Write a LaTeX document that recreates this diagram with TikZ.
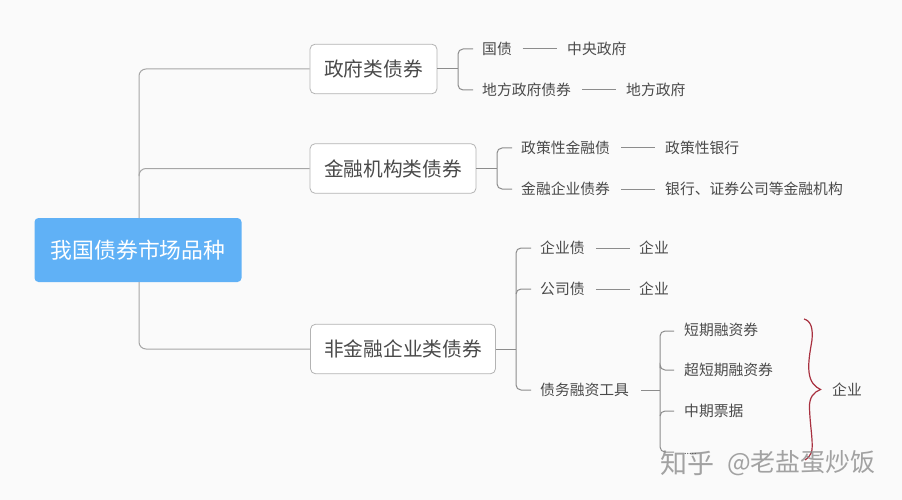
\documentclass[tikz,border=0pt]{standalone}
\usepackage{fontspec}
\setmainfont{Noto Sans CJK SC}[Scale=1]
\definecolor{bgc}{HTML}{FAFAFA}
\definecolor{rootc}{HTML}{60B1F6}
\definecolor{linec}{HTML}{A6A6A6}
\definecolor{linek}{HTML}{8C8C8C}
\definecolor{txt}{HTML}{4A4A4A}
\definecolor{brc}{HTML}{A8303F}
\begin{document}
\begin{tikzpicture}[x=1pt,y=-1pt,
  rootbox/.style={fill=rootc,rounded corners=4pt,minimum width=207pt,minimum height=64pt,inner sep=0pt,text=white,font=\fontsize{21.8}{24}\selectfont},
  midbox/.style={draw=linec!85,line width=0.8pt,fill=white,rounded corners=5pt,minimum height=49.5pt,inner sep=0pt,text=txt,font=\fontsize{19.7}{22}\selectfont},
  leaf/.style={inner sep=0pt,text=txt,anchor=west,minimum height=16pt,font=\fontsize{14.8}{17}\selectfont},
  conn/.style={draw=linec,line width=1pt,rounded corners=7pt},
  plain/.style={draw=linek,line width=1pt},
  tree/.style={draw=linek,line width=1pt,rounded corners=5pt},
  wmark/.style={inner sep=0pt,text=black!45,opacity=.8}]
\useasboundingbox (0,0) rectangle (902,500);
\fill[bgc] (0,0) rectangle (902,500);
% nodes
\node[rootbox] (root) at (138,250) {我国债券市场品种};
\node[midbox,minimum width=127pt] (a) at (373.5,69) {政府类债券};
\node[midbox,minimum width=166pt] (b) at (393,168.5) {金融机构类债券};
\node[midbox,minimum width=185pt] (c) at (403,349) {非金融企业类债券};
\node[leaf] (a1) at (482,49) {国债};
\node[leaf] (a1x) at (567,49) {中央政府};
\node[leaf] (a2) at (482,90) {地方政府债券};
\node[leaf] (a2x) at (626,90) {地方政府};
\node[leaf] (b1) at (521,148) {政策性金融债};
\node[leaf] (b1x) at (665,148) {政策性银行};
\node[leaf] (b2) at (521,189) {金融企业债券};
\node[leaf] (b2x) at (665,189) {银行、证券公司等金融机构};
\node[leaf] (c1) at (540,248) {企业债};
\node[leaf] (c1x) at (639,248) {企业};
\node[leaf] (c2) at (540,289) {公司债};
\node[leaf] (c2x) at (639,289) {企业};
\node[leaf] (c3) at (540,390) {债务融资工具};
\node[leaf] (d1) at (684,330) {短期融资券};
\node[leaf] (d2) at (684,370) {超短期融资券};
\node[leaf] (d3) at (684,411) {中期票据};
\node[leaf] (e) at (832,390) {企业};
\coordinate (trunk) at (139,218);
\coordinate (ja) at (458,69);
\coordinate (jb) at (497,168.5);
\coordinate (jc) at (516,349);
\coordinate (jd) at (660,390);
\coordinate (d4) at (674,452);
% root connectors
\draw[conn] (trunk) |- (a.west);
\draw[conn] (139,176) |- (b.west);
\draw[conn] (trunk |- root.south) |- (c.west);
% second level trees
\draw[plain] (a.east) -- (ja);
\draw[tree] ([xshift=-9pt]a1.west) -| (ja) |- ([xshift=-9pt]a2.west);
\draw[plain] (b.east) -- (jb);
\draw[tree] ([xshift=-9pt]b1.west) -| (jb) |- ([xshift=-9pt]b2.west);
\draw[plain] (c.east) -- (jc);
\draw[tree] ([xshift=-9pt]c1.west) -| (jc) |- ([xshift=-9pt]c3.west);
\draw[tree] ([yshift=-5pt]jc |- c2.west) |- ([xshift=-9pt]c2.west);
% leaf links
\draw[plain] ([xshift=10.6pt]a1.east) -- ([xshift=-10pt]a1x.west);
\draw[plain] ([xshift=11pt]a2.east) -- ([xshift=-10pt]a2x.west);
\draw[plain] ([xshift=11pt]b1.east) -- ([xshift=-10pt]b1x.west);
\draw[plain] ([xshift=11pt]b2.east) -- ([xshift=-10pt]b2x.west);
\draw[plain] ([xshift=11pt]c1.east) -- ([xshift=-9pt]c1x.west);
\draw[plain] ([xshift=11pt]c2.east) -- ([xshift=-9pt]c2x.west);
\draw[plain] ([xshift=12pt]c3.east) -- (jd);
\draw[tree] ([xshift=-10pt,yshift=-1pt]d1.west) -| (jd) |- (d4);
\draw[tree] ([yshift=2pt]jd |- d2.west) -- (jd |- d2.west) -- ([xshift=-10pt]d2.west);
\draw[tree] ([yshift=-5pt]jd |- d3.west) |- ([xshift=-10pt]d3.west);
% brace
\draw[brc,line width=1.2pt] (804,319) .. controls (811,321) and (813,328) .. (812,340)
  .. controls (810,352) and (808,362) .. (809,372)
  .. controls (810,382) and (815,387) .. (820.5,389.5)
  .. controls (814,392) and (809,397) .. (809.5,408)
  .. controls (810,425) and (813,440) .. (812,450)
  .. controls (811,455) and (808,458) .. (805,460);
% watermark
\node[wmark,anchor=west,font=\fontsize{27}{29}\selectfont] (w1) at (660,463) {知乎};
\node[wmark,anchor=west,font=\fontsize{25}{27}\selectfont] (w2) at (727,463) {@老盐蛋炒饭};
\node[inner sep=0pt,anchor=base west,text=txt,font=\fontsize{9}{9}\selectfont] (d4t) at (684,454.5) {.....};
\end{tikzpicture}
\end{document}
